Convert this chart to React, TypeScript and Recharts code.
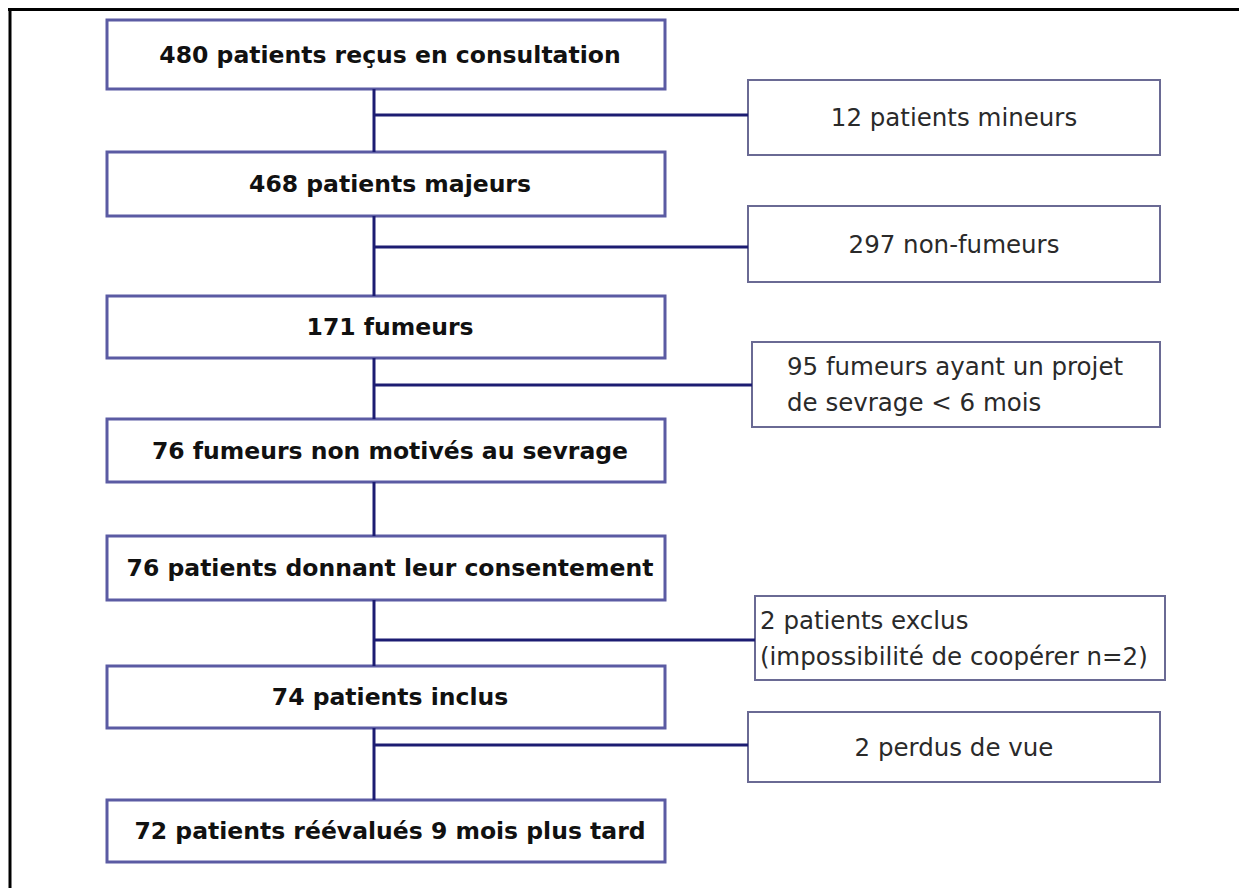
import React from "react";
import {
  ComposedChart,
  XAxis,
  YAxis,
  Scatter,
  ReferenceArea,
  ReferenceLine,
} from "recharts";

// Flow of patients through the study (counts + wording of each step).
const mainCounts = [480, 468, 171, 76, 76, 74, 72];
const mainLabels = [
  "patients reçus en consultation",
  "patients majeurs",
  "fumeurs",
  "fumeurs non motivés au sevrage",
  "patients donnant leur consentement",
  "patients inclus",
  "patients réévalués 9 mois plus tard",
];
const sideCounts = [12, 297, 95, 2, 2];
const sideLabels = [
  ["patients mineurs"],
  ["non-fumeurs"],
  ["fumeurs ayant un projet", "de sevrage < 6 mois"],
  ["patients exclus", "(impossibilité de coopérer n=2)"],
  ["perdus de vue"],
];

// Layout, in page pixels (the axes below map them 1:1).
const MAIN_X = [107, 665];
const TRUNK_X = 374;
const mainRows = [
  [20, 89],
  [152, 216],
  [296, 358],
  [419, 482],
  [536, 600],
  [666, 728],
  [800, 862],
];
const sideBoxes = [
  { x: [748, 1160], y: [80, 155], link: 115, align: "center", pad: 0 },
  { x: [748, 1160], y: [206, 282], link: 247, align: "center", pad: 0 },
  { x: [752, 1160], y: [342, 427], link: 385, align: "left", pad: 35 },
  { x: [755, 1165], y: [596, 680], link: 640, align: "left", pad: 5 },
  { x: [748, 1160], y: [712, 782], link: 745, align: "center", pad: 0 },
];

const LINK = "#1c1c72";
const MAIN_STROKE = "#5b5ba3";
const SIDE_STROKE = "#6a6a94";

const mainText = (text: string) => (props: any) => {
  const { x, y, width, height } = props.viewBox;
  return (
    <text
      x={x + width / 2 + 4}
      y={y + height / 2}
      textAnchor="middle"
      dominantBaseline="central"
      fontFamily="DejaVu Sans"
      fontWeight="bold"
      fontSize={23.5}
      fill="#111"
    >
      {text}
    </text>
  );
};

const sideText =
  (lines: string[], align: string, pad: number) => (props: any) => {
    const { x, y, width, height } = props.viewBox;
    const lh = 36;
    const top = y + height / 2 - ((lines.length - 1) * lh) / 2;
    return (
      <text
        textAnchor={align === "center" ? "middle" : "start"}
        fontFamily="DejaVu Sans"
        fontSize={24.5}
        fill="#2a2a2a"
      >
        {lines.map((l, i) => (
          <tspan
            key={i}
            x={align === "center" ? x + width / 2 : x + pad}
            y={top + i * lh}
            dominantBaseline="central"
          >
            {l}
          </tspan>
        ))}
      </text>
    );
  };

export default function App() {
  const centers = mainRows.map((r, i) => ({
    x: (MAIN_X[0] + MAIN_X[1]) / 2,
    y: (r[0] + r[1]) / 2,
    n: mainCounts[i],
  }));

  return (
    <div style={{ width: 1239, height: 880, background: "#fff" }}>
      <ComposedChart
        width={1239}
        height={880}
        margin={{ top: 0, right: 0, bottom: 0, left: 0 }}
        data={centers}
      >
        <XAxis type="number" dataKey="x" domain={[8, 1247]} hide allowDataOverflow />
        <YAxis type="number" dataKey="y" domain={[8, 888]} reversed hide allowDataOverflow />

        {/* outer frame (top + left edges only, the rest is cropped) */}
        <ReferenceLine
          segment={[{ x: 8, y: 9.5 }, { x: 1247, y: 9.5 }]}
          stroke="#000"
          strokeWidth={3}
          ifOverflow="visible"
        />
        <ReferenceLine
          segment={[{ x: 10, y: 8 }, { x: 10, y: 888 }]}
          stroke="#000"
          strokeWidth={3}
          ifOverflow="visible"
        />

        {/* trunk between main boxes */}
        {mainRows.slice(0, -1).map((r, i) => (
          <ReferenceLine
            key={`t${i}`}
            segment={[
              { x: TRUNK_X, y: r[1] },
              { x: TRUNK_X, y: mainRows[i + 1][0] },
            ]}
            stroke={LINK}
            strokeWidth={3}
            ifOverflow="visible"
          />
        ))}

        {/* branches to exclusion boxes */}
        {sideBoxes.map((b, i) => (
          <ReferenceLine
            key={`b${i}`}
            segment={[
              { x: TRUNK_X, y: b.link },
              { x: b.x[0], y: b.link },
            ]}
            stroke={LINK}
            strokeWidth={3}
            ifOverflow="visible"
          />
        ))}

        {mainRows.map((r, i) => (
          <ReferenceArea
            key={`m${i}`}
            x1={MAIN_X[0]}
            x2={MAIN_X[1]}
            y1={r[0]}
            y2={r[1]}
            fill="#fff"
            fillOpacity={1}
            stroke={MAIN_STROKE}
            strokeWidth={3}
            ifOverflow="visible"
            label={mainText(`${mainCounts[i]} ${mainLabels[i]}`)}
          />
        ))}

        {sideBoxes.map((b, i) => {
          const lines = sideLabels[i].map((l, j) =>
            j === 0 ? `${sideCounts[i]} ${l}` : l
          );
          return (
            <ReferenceArea
              key={`s${i}`}
              x1={b.x[0]}
              x2={b.x[1]}
              y1={b.y[0]}
              y2={b.y[1]}
              fill="#fff"
              fillOpacity={1}
              stroke={SIDE_STROKE}
              strokeWidth={2}
              ifOverflow="visible"
              label={sideText(lines, b.align, b.pad)}
            />
          );
        })}

        <Scatter
          dataKey="y"
          data={centers}
          fill="none"
          shape={() => <g />}
          isAnimationActive={false}
        />
      </ComposedChart>
    </div>
  );
}
